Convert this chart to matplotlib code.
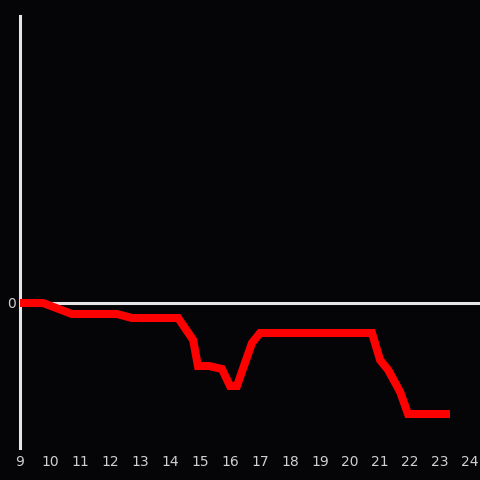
import matplotlib
matplotlib.use("Agg")
import matplotlib.pyplot as plt

# -----------------------------
# Data (hour of day vs. change)
# -----------------------------
hours = [9.0, 9.77, 10.73, 12.23, 12.73, 14.27, 14.77, 14.93, 15.3, 15.73,
         16.0, 16.23, 16.73, 17.0, 20.73, 21.0, 21.27, 21.67, 21.93, 23.33]
values = [0.0, 0.0, -1.1, -1.1, -1.5, -1.5, -3.7, -6.3, -6.3, -6.6,
          -8.3, -8.3, -4.0, -3.0, -3.0, -5.7, -6.7, -8.9, -11.1, -11.1]
x_ticks = list(range(9, 25))
y_ticks = [0]

BG = "#050407"
FG = "#e6e6e6"

fig = plt.figure(figsize=(4.8, 4.8), dpi=100, facecolor=BG)
ax = fig.add_axes([20 / 480, 32 / 480, 460 / 480, 432 / 480], facecolor=BG)

ax.plot(hours, values, color="#ff0000", linewidth=5.8,
        solid_joinstyle="miter", solid_capstyle="butt", zorder=3)
ax.axhline(0, color=FG, linewidth=2.2, zorder=2)

ax.set_xlim(9, 24.33)
ax.set_ylim(-14.5, 28.7)

for side in ["top", "right", "bottom"]:
    ax.spines[side].set_visible(False)
ax.spines["left"].set_color(FG)
ax.spines["left"].set_linewidth(2.2)

ax.set_xticks(x_ticks)
ax.set_xticklabels([str(t) for t in x_ticks])
ax.set_yticks(y_ticks)
ax.set_yticklabels(["0"])
ax.tick_params(axis="both", length=0, colors="#d0d0d0", labelsize=10)
ax.tick_params(axis="x", pad=5)
ax.tick_params(axis="y", pad=3)

fig.savefig("out.png", dpi=100, facecolor=BG)
